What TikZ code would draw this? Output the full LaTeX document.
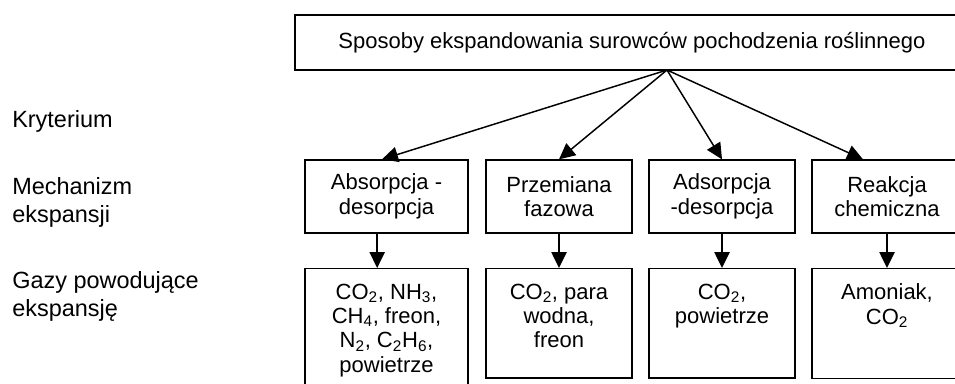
\documentclass[tikz,border=0pt]{standalone}
\usepackage{fontspec}
\setmainfont{Liberation Sans}
\usetikzlibrary{arrows.meta,positioning}

\tikzset{
    box/.style={rectangle, draw, line width=1pt, align=center, inner xsep=2pt},
    gasbox/.style={box, anchor=north, inner ysep=11.25pt},
    sidelabel/.style={anchor=base west, align=left, inner sep=0pt, font=\fontsize{17.6}{21}\selectfont},
    arr/.style={draw, line width=1.1pt, -{Triangle[length=12pt, width=11.5pt]}}
}

\begin{document}
\begin{tikzpicture}[x=0.75pt, y=-0.75pt, font=\fontsize{16.5}{18.3}\selectfont]
    \useasboundingbox (0,0) rectangle (955,383);
    \clip (0,0) rectangle (955,383);

    % top box
    \node(top) [box, minimum width=505.5pt, minimum height=41.25pt] at (632,42.5) {Sposoby ekspandowania surowców pochodzenia roślinnego};
    \coordinate (root) at (667,70);

    % left column
    \node(k1) [sidelabel] at (12,127) {Kryterium};
    \node(k2) [sidelabel] at (12,222) {Mechanizm\\ekspansji};
    \node(k3) [sidelabel] at (12,316) {Gazy powodujące\\ekspansję};

    % mechanisms
    \node(m1) [box, minimum width=122.25pt, minimum height=54.75pt] at (386.5,196.5) {Absorpcja -\\desorpcja};
    \node(m2) [box, minimum width=109.5pt, minimum height=54.75pt] at (559,196.5) {Przemiana\\fazowa};
    \node(m3) [box, minimum width=109.5pt, minimum height=54.75pt] at (722,196.5) {Adsorpcja\\-desorpcja};
    \node(m4) [box, minimum width=112.5pt, minimum height=54.75pt] at (887,196.5) {Reakcja\\chemiczna};

    % gases
    \node(g1) [gasbox, minimum width=122.25pt, text depth=24pt] at (386.5,268) {CO\textsubscript{2}, NH\textsubscript{3},\\CH\textsubscript{4}, freon,\\N\textsubscript{2}, C\textsubscript{2}H\textsubscript{6},\\powietrze};
    \node(g2) [gasbox, minimum width=109.5pt, text depth=11.4pt] at (559,268) {CO\textsubscript{2}, para\\wodna,\\freon};
    \node(g3) [gasbox, minimum width=109.5pt, text depth=29.7pt] at (722,268) {CO\textsubscript{2},\\powietrze};
    \node(g4) [gasbox, minimum width=112.5pt, text depth=29.7pt] at (887,268) {Amoniak,\\CO\textsubscript{2}};

    \draw[arr] (root) -- ([xshift=-3.4pt]m1.north);
    \draw[arr] (root) -- (m2.north);
    \draw[arr] (root) -- (m3.north);
    \draw[arr] (root) -- ([xshift=-18pt]m4.north);

    \draw[arr] ([xshift=-7pt]m1.south) -- ([xshift=-7pt]g1.north);
    \draw[arr] (m2.south) -- (g2.north);
    \draw[arr] (m3.south) -- (g3.north);
    \draw[arr] (m4.south) -- (g4.north);

\end{tikzpicture}
\end{document}
